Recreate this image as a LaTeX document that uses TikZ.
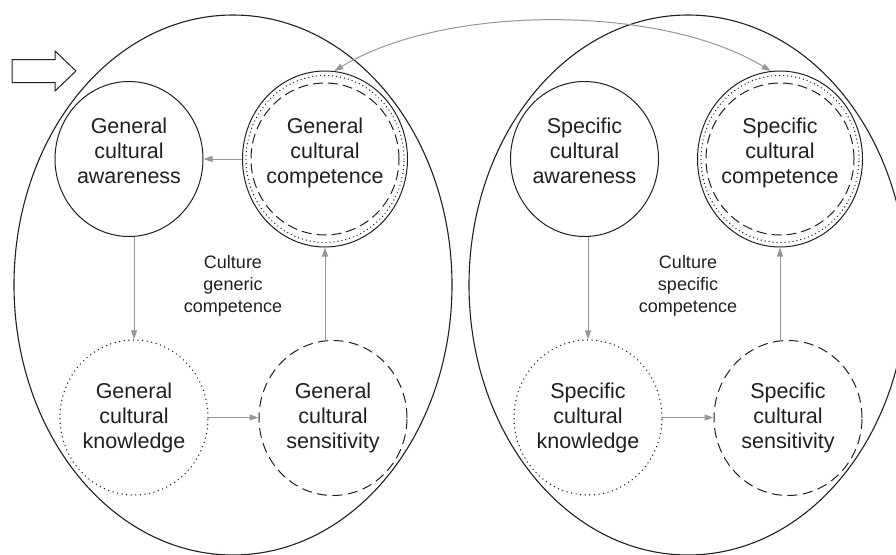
\documentclass[tikz,border=0pt]{standalone}
\usepackage{fontspec}
\setmainfont{Liberation Sans}
\usetikzlibrary{arrows.meta,shapes.geometric}
\definecolor{ink}{RGB}{35,31,32}
\definecolor{agray}{RGB}{150,150,150}
\newcommand\bubtxt[5]{\makebox[0pt]{\begin{tabular}{@{}c@{}}\rule{0pt}{#1pt}#3\\#4\\#5\rule[-#2pt]{0pt}{#2pt}\end{tabular}}}
\begin{document}
\begin{tikzpicture}[x=1pt,y=-1pt,
  bigoval/.style={draw=ink, line width=1.1pt, ellipse, minimum width=438pt, minimum height=540pt, inner sep=0pt},
  bub/.style={ellipse, inner sep=0pt, minimum width=148pt, minimum height=155pt, text=ink, font=\fontsize{21.5}{25}\selectfont},
  solidbub/.style={bub, draw=ink, line width=1pt},
  dotbub/.style={bub, draw=ink, line width=1.5pt, dash pattern=on 0pt off 4.6pt, line cap=round},
  dashbub/.style={bub, draw=ink, line width=1pt, dash pattern=on 10pt off 5.5pt},
  compbub/.style={solidbub, minimum width=165pt, minimum height=176pt},
  dotring/.style={draw=ink, line width=1.4pt, dash pattern=on 0pt off 4pt, line cap=round},
  dashring/.style={draw=ink, line width=1pt, dash pattern=on 10pt off 5pt},
  note/.style={text=ink, font=\fontsize{18}{22}\selectfont, inner sep=0pt},
  conn/.style={draw=agray, line width=1pt, -{Triangle[length=9pt,width=6pt]}},
  hollow/.style={draw=ink, line width=1pt, fill=white}
]
\useasboundingbox (0,0) rectangle (896,554);
\clip (0,0) rectangle (896,554);

% large ovals
\node[bigoval] (lo) at (233,285) {};
\node[bigoval] (ro) at (688,285) {};

% entry arrow
\draw[hollow] (12,59.5) -- (55,59.5) -- (55,51) -- (76,71) -- (55,91) -- (55,82.5) -- (12,82.5) -- cycle;

% generic side
\node[solidbub] (gca) at (129,159) {\bubtxt{17.5}{19.5}{General}{cultural}{awareness}};
\node[compbub] (gcc) at (325,159) {\bubtxt{17.5}{19.5}{General}{cultural}{competence}};
\draw[dotring] (gcc.center) ellipse [x radius=79pt, y radius=83.5pt];
\draw[dashring] (gcc.center) ellipse [x radius=74pt, y radius=76pt];
\node[dotbub] (gck) at (134,417.5) {\bubtxt{18.5}{7.5}{General}{cultural}{knowledge}};
\node[dashbub] (gcs) at (333,418) {\bubtxt{18.5}{7.5}{General}{cultural}{sensitivity}};
\node[note] (gnote) at (233,285.6) {\begin{tabular}{@{}c@{}}Culture\\generic\\competence\end{tabular}};

% specific side
\node[solidbub] (sca) at (584.5,159) {\bubtxt{17.5}{19.5}{Specific}{cultural}{awareness}};
\node[compbub] (scc) at (780,159) {\bubtxt{17.5}{19.5}{Specific}{cultural}{competence}};
\draw[dotring] (scc.center) ellipse [x radius=79pt, y radius=83.5pt];
\draw[dashring] (scc.center) ellipse [x radius=74pt, y radius=76pt];
\node[dotbub] (sck) at (588,417.5) {\bubtxt{18.5}{7.5}{Specific}{cultural}{knowledge}};
\node[dashbub] (scs) at (788,418) {\bubtxt{18.5}{7.5}{Specific}{cultural}{sensitivity}};
\node[note] (snote) at (688,285.6) {\begin{tabular}{@{}c@{}}Culture\\specific\\competence\end{tabular}};

% connectors
\draw[conn] (gcc.west) -- (gca.east);
\draw[conn] (gca.south -| gck.north) -- (gck.north);
\draw[conn] (gck.east) -- (gck.east -| gcs.west);
\draw[conn] (gcs.north -| gcc.south) -- (gcc.south);

\draw[conn] (sca.south -| sck.north) -- (sck.north);
\draw[conn] (sck.east) -- (sck.east -| scs.west);
\draw[conn] (scs.north -| scc.south) -- (scc.south);

\draw[conn, {Triangle[length=9pt,width=6pt]}-{Triangle[length=9pt,width=6pt]}] (gcc.84) .. controls +(110,-67) and +(-110,-67) .. (scc.96);
\end{tikzpicture}
\end{document}
